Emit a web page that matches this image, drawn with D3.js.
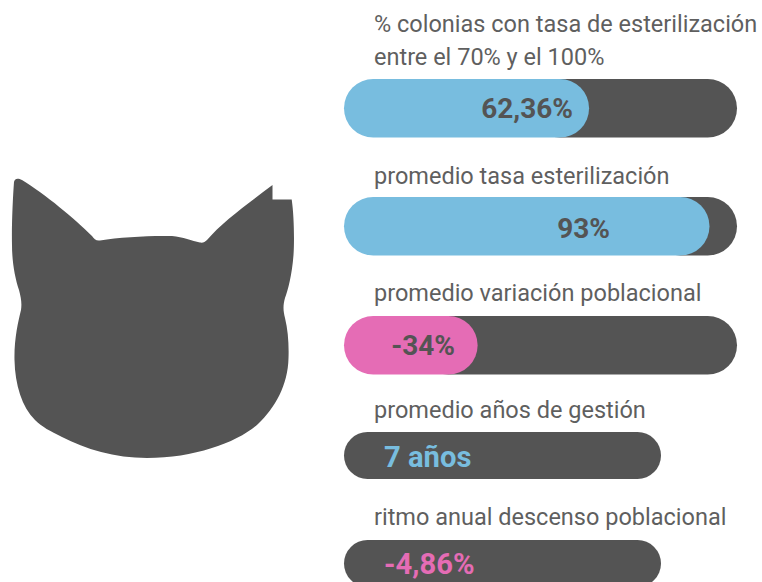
<!DOCTYPE html>
<html>
<head>
<meta charset="utf-8">
<script src="https://d3js.org/d3.v7.min.js"></script>
<style>
  html, body { margin:0; padding:0; background:#fff; overflow:hidden; }
  svg { display:block; font-family:Roboto, sans-serif; }
</style>
</head>
<body>
<svg id="chart" width="762" height="582"></svg>
<script>
// --- Data ---
const barLabels = [
  ["% colonias con tasa de esterilización", "entre el 70% y el 100%"],
  ["promedio tasa esterilización"],
  ["promedio variación poblacional"]
];
const barValues = [62.36, 93, 34];
const barValueText = ["62,36%", "93%", "-34%"];
const statLabels = ["promedio años de gestión", "ritmo anual descenso poblacional"];
const statValueText = ["7 años", "-4,86%"];

// --- Layout ---
const GREY = "#545454", BLUE = "#78bddf", PINK = "#e56cb5", TEXT = "#5f5f5f";
const barColors = [BLUE, BLUE, PINK];
const barTops = [79, 197, 316];
const barLabelY = [[32, 65], [183.5], [300.5]];
const barTextEnd = [573, 610, 455];
const barTextY = [118, 238, 355];
const statColors = [BLUE, PINK];
const statTops = [432, 540];
const statTextY = [467, 574];
const statLabelY = [418, 525];

const svg = d3.select("#chart");
const x = d3.scaleLinear().domain([0, 100]).range([344, 737]);
const barH = 58.5, statH = 47, statW = 317;
const LABEL_SIZE = 23.5, VALUE_SIZE = 28, STAT_SIZE = 29.2;

// Cat silhouette
svg.append("path")
  .attr("fill", GREY)
  .attr("d", `M14,182 C15,178 18,178 22,180 C45,194 75,219 92,236 C94,239 96,241 100,240.5
    C120,237 150,235.5 172,236 C183,237 192,241 200,242.5 C203,243 205,242 207,240
    C222,222 250,202 272.5,185 L272.5,199.5 L291.7,199.5
    C294,215 294.5,240 293.5,255 C292,275 288,290 285,298 C283,305 283,310 285,318
    C288,330 289,345 288.5,358 C288,385 275,408 258,424 C238,442 195,458 147,458
    C115,458 85,449 62,437 C50,431 42,427 35,420 C22,407 15,385 14.5,360
    C14,340 18,322 21,310 C22,303 21,298 19,290
    C15,278 12,262 12,245 C11.5,225 13,195 14,182 Z`);

// Full width bars (grey track starts under the fill so no dark fringe shows on the left)
const bars = svg.selectAll("g.bar").data(barValues).enter().append("g").attr("class", "bar");
bars.append("rect")
  .attr("x", d => x(d) - barH).attr("y", (d, i) => barTops[i])
  .attr("width", d => x(100) - x(d) + barH).attr("height", barH)
  .attr("rx", barH / 2).attr("fill", GREY);
bars.append("rect")
  .attr("x", x(0)).attr("y", (d, i) => barTops[i])
  .attr("width", d => x(d) - x(0)).attr("height", barH)
  .attr("rx", barH / 2).attr("fill", (d, i) => barColors[i]);
bars.append("text")
  .attr("x", (d, i) => barTextEnd[i]).attr("y", (d, i) => barTextY[i])
  .attr("text-anchor", "end").attr("font-size", VALUE_SIZE).attr("font-weight", 700)
  .attr("fill", GREY).text((d, i) => barValueText[i]);

barLabels.forEach((lines, i) => {
  lines.forEach((line, j) => {
    svg.append("text").attr("x", 374).attr("y", barLabelY[i][j])
      .attr("font-size", LABEL_SIZE).attr("fill", TEXT).text(line);
  });
});

// Short stat pills, no fill
const stats = svg.selectAll("g.stat").data(statValueText).enter().append("g").attr("class", "stat");
stats.append("rect")
  .attr("x", 344).attr("y", (d, i) => statTops[i])
  .attr("width", statW).attr("height", statH)
  .attr("rx", statH / 2).attr("fill", GREY);
stats.append("text")
  .attr("x", 384).attr("y", (d, i) => statTextY[i])
  .attr("font-size", STAT_SIZE).attr("font-weight", 700)
  .attr("fill", (d, i) => statColors[i]).text(d => d);
stats.append("text")
  .attr("x", 374).attr("y", (d, i) => statLabelY[i])
  .attr("font-size", LABEL_SIZE).attr("fill", TEXT).text((d, i) => statLabels[i]);
</script>
</body>
</html>
